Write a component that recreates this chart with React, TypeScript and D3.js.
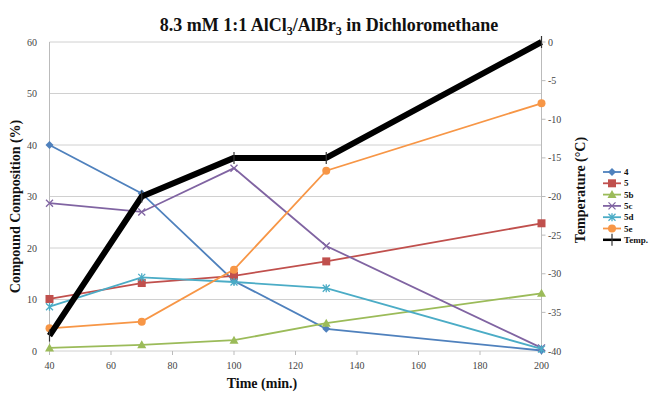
import React from "react";
import * as d3 from "d3";

const times = [40, 70, 100, 130, 200];
const s4 = [40, 30.6, 13.6, 4.3, 0.1];
const s5 = [10.1, 13.2, 14.6, 17.4, 24.8];
const s5b = [0.6, 1.2, 2.1, 5.4, 11.2];
const s5c = [28.7, 27.0, 35.5, 20.4, 0.6];
const s5d = [8.6, 14.3, 13.4, 12.2, 0.4];
const s5e = [4.4, 5.7, 15.8, 35.0, 48.1];
const temp = [-38, -20, -15, -15, 0];
const xTicks = [40, 60, 80, 100, 120, 140, 160, 180, 200];
const yTicks = [0, 10, 20, 30, 40, 50, 60];
const tTicks = [0, -5, -10, -15, -20, -25, -30, -35, -40];

const series = [
  { name: "4", values: s4, color: "#4f81bd", marker: "diamond" },
  { name: "5", values: s5, color: "#c0504d", marker: "square" },
  { name: "5b", values: s5b, color: "#9bbb59", marker: "triangle" },
  { name: "5c", values: s5c, color: "#8064a2", marker: "x" },
  { name: "5d", values: s5d, color: "#4bacc6", marker: "star" },
  { name: "5e", values: s5e, color: "#f79646", marker: "circle" },
];

const W = 651, H = 396;
const L = 49.5, R = 541.5, T = 42, B = 351;

function Marker({ type, x, y, color }: { type: string; x: number; y: number; color: string }) {
  switch (type) {
    case "diamond":
      return <path d={`M${x},${y - 4}L${x + 4},${y}L${x},${y + 4}L${x - 4},${y}Z`} fill={color} />;
    case "square":
      return <rect x={x - 4} y={y - 4} width={8} height={8} fill={color} />;
    case "triangle":
      return <path d={`M${x},${y - 4.5}L${x + 4.5},${y + 3.5}L${x - 4.5},${y + 3.5}Z`} fill={color} />;
    case "x":
      return <path d={`M${x - 3.5},${y - 3.5}L${x + 3.5},${y + 3.5}M${x - 3.5},${y + 3.5}L${x + 3.5},${y - 3.5}`} stroke={color} strokeWidth={1.3} />;
    case "star":
      return <path d={`M${x - 3.5},${y - 3.5}L${x + 3.5},${y + 3.5}M${x - 3.5},${y + 3.5}L${x + 3.5},${y - 3.5}M${x},${y - 4}L${x},${y + 4}`} stroke={color} strokeWidth={1.3} />;
    case "circle":
      return <circle cx={x} cy={y} r={4} fill={color} />;
    case "plus":
      return <path d={`M${x},${y - 6}L${x},${y + 6}`} stroke="#333" strokeWidth={1.2} />;
    default:
      return null;
  }
}

export default function App() {
  const x = d3.scaleLinear().domain([40, 200]).range([L, R]);
  const yL = d3.scaleLinear().domain([0, 60]).range([B, T]);
  const yR = d3.scaleLinear().domain([-40, 0]).range([B, T]);
  const lineL = d3.line<number>().x((_, i) => x(times[i])).y((d) => yL(d));
  const lineR = d3.line<number>().x((_, i) => x(times[i])).y((d) => yR(d));
  const font = "Liberation Serif, DejaVu Serif, serif";
  const legendItems = [...series.map((s) => ({ name: s.name, color: s.color, marker: s.marker })), { name: "Temp.", color: "#000", marker: "plus" }];

  return (
    <svg width={W} height={H} fontFamily={font} style={{ position: "absolute", left: 0, top: 0, background: "#fff" }}>
      <rect width={W} height={H} fill="#fff" />
      <text x={329} y={31} textAnchor="middle" fontSize={18} fontWeight="bold" fill="#111" fontFamily={font}>
        8.3 mM 1:1 AlCl<tspan dy={4} fontSize={12}>3</tspan><tspan dy={-4}>/AlBr</tspan><tspan dy={4} fontSize={12}>3</tspan><tspan dy={-4}> in Dichloromethane</tspan>
      </text>
      {yTicks.map((t) => (
        <g key={t}>
          <line x1={L} x2={R} y1={yL(t)} y2={yL(t)} stroke="#d0d0d0" strokeWidth={1} />
          <text x={37} y={yL(t) + 3.5} textAnchor="end" fontSize={10} fill="#444" fontFamily={font}>{t}</text>
        </g>
      ))}
      <line x1={L} x2={L} y1={T} y2={B} stroke="#bbb" />
      <line x1={R} x2={R} y1={T} y2={B} stroke="#bbb" />
      {xTicks.map((t) => (
        <g key={t}>
          <line x1={x(t)} x2={x(t)} y1={B} y2={B + 4} stroke="#bbb" />
          <text x={x(t)} y={369} textAnchor="middle" fontSize={10} fill="#444" fontFamily={font}>{t}</text>
        </g>
      ))}
      {tTicks.map((t) => (
        <g key={t}>
          <line x1={R} x2={R + 4} y1={yR(t)} y2={yR(t)} stroke="#bbb" />
          <text x={548} y={yR(t) + 3.5} textAnchor="start" fontSize={10} fill="#444" fontFamily={font}>{t}</text>
        </g>
      ))}
      <text transform={`translate(20,${(T + B) / 2 + 10}) rotate(-90)`} textAnchor="middle" fontSize={14} fontWeight="bold" fill="#111" fontFamily={font}>Compound Composition (%)</text>
      <text transform={`translate(585,190) rotate(-90)`} textAnchor="middle" fontSize={14} fontWeight="bold" fill="#111" fontFamily={font}>Temperature (°C)</text>
      <text x={262} y={388} textAnchor="middle" fontSize={14} fontWeight="bold" fill="#111" fontFamily={font}>Time (min.)</text>
      {series.map((s) => (
        <g key={s.name}>
          <path d={lineL(s.values) || ""} fill="none" stroke={s.color} strokeWidth={1.8} />
          {s.values.map((v, i) => (
            <Marker key={i} type={s.marker} x={x(times[i])} y={yL(v)} color={s.color} />
          ))}
        </g>
      ))}
      <path d={lineR(temp) || ""} fill="none" stroke="#000" strokeWidth={6} strokeLinejoin="round" />
      {temp.map((v, i) => (
        <Marker key={i} type="plus" x={x(times[i])} y={yR(v)} color="#000" />
      ))}
      {legendItems.map((it, i) => {
        const yy = 172 + i * 11.3;
        return (
          <g key={it.name}>
            <line x1={603} x2={621} y1={yy} y2={yy} stroke={it.color} strokeWidth={it.marker === "plus" ? 2.5 : 1.8} />
            <Marker type={it.marker === "plus" ? "plus" : it.marker} x={612} y={yy} color={it.color} />
            <text x={624} y={yy + 3} fontSize={9} fontWeight="bold" fill="#111" fontFamily={font}>{it.name}</text>
          </g>
        );
      })}
    </svg>
  );
}
